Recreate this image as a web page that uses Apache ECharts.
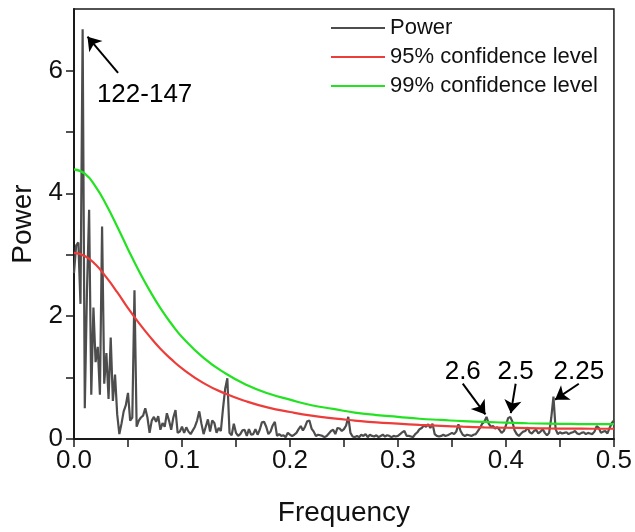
<!DOCTYPE html>
<html>
<head>
<meta charset="utf-8">
<script src="https://cdn.jsdelivr.net/npm/echarts@6/dist/echarts.min.js"></script>
<style>
  html, body { margin: 0; padding: 0; background: #fff; }
  #chart { width: 635px; height: 532px; }
</style>
</head>
<body>
<div id="chart"></div>
<script>
  // periodogram, one value every 0.002 in frequency (0 .. 0.5)
  const freqStep = 0.002;
  const powerValues = [
    2.7, 3.15, 3.2, 2.2, 6.67, 0.5, 2.4, 3.73, 0.72, 2.14,
    1.25, 1.5, 0.72, 3.46, 0.9, 1.4, 0.65, 1.65, 0.62, 1.05,
    0.4, 0.08, 0.25, 0.45, 0.55, 0.75, 0.3, 0.35, 2.42, 0.2,
    0.3, 0.35, 0.38, 0.5, 0.35, 0.1, 0.3, 0.36, 0.28, 0.37,
    0.15, 0.26, 0.2, 0.42, 0.3, 0.15, 0.35, 0.47, 0.1, 0.12,
    0.2, 0.1, 0.19, 0.12, 0.08, 0.14, 0.2, 0.3, 0.45, 0.25,
    0.08, 0.2, 0.32, 0.12, 0.3, 0.26, 0.1, 0.18, 0.13, 0.5,
    0.82, 0.99, 0.1, 0.06, 0.25, 0.1, 0.05, 0.08, 0.14, 0.15,
    0.05, 0.16, 0.07, 0.08, 0.16, 0.07, 0.15, 0.27, 0.28, 0.2,
    0.08, 0.12, 0.22, 0.28, 0.05, 0.08, 0.05, 0.06, 0.03, 0.1,
    0.07, 0.05, 0.07, 0.1, 0.16, 0.21, 0.14, 0.2, 0.29, 0.3,
    0.17, 0.12, 0.05, 0.07, 0.06, 0.05, 0.03, 0.05, 0.09, 0.13,
    0.15, 0.08, 0.18, 0.17, 0.13, 0.16, 0.22, 0.36, 0.1, 0.04,
    0.03, 0.05, 0.03, 0.07, 0.05, 0.08, 0.03, 0.07, 0.05, 0.04,
    0.06, 0.03, 0.05, 0.07, 0.04, 0.06, 0.05, 0.03, 0.05, 0.04,
    0.05, 0.08, 0.11, 0.13, 0.05, 0.05, 0.04, 0.03, 0.08, 0.11,
    0.16, 0.18, 0.22, 0.2, 0.24, 0.18, 0.25, 0.08, 0.05, 0.04,
    0.05, 0.07, 0.05, 0.06, 0.08, 0.1, 0.08, 0.12, 0.24, 0.13,
    0.07, 0.05, 0.07, 0.06, 0.05, 0.07, 0.08, 0.13, 0.18, 0.25,
    0.28, 0.36, 0.25, 0.2, 0.21, 0.17, 0.19, 0.15, 0.1, 0.13,
    0.22, 0.34, 0.36, 0.28, 0.14, 0.08, 0.05, 0.09, 0.12, 0.13,
    0.19, 0.11, 0.09, 0.13, 0.15, 0.09, 0.12, 0.16, 0.1, 0.06,
    0.1, 0.35, 0.69, 0.16, 0.08, 0.11, 0.09, 0.1, 0.11, 0.08,
    0.1, 0.11, 0.13, 0.09, 0.08, 0.1, 0.11, 0.08, 0.1, 0.09,
    0.08, 0.12, 0.21, 0.18, 0.1, 0.12, 0.13, 0.09, 0.18, 0.26,
    0.3
  ];

  // confidence level curves
  const confFreq = [0, 0.01, 0.02, 0.03, 0.04, 0.05, 0.06, 0.07, 0.08, 0.09, 0.1,
    0.12, 0.14, 0.16, 0.18, 0.2, 0.22, 0.24, 0.26, 0.28, 0.3,
    0.32, 0.34, 0.36, 0.38, 0.4, 0.42, 0.44, 0.46, 0.48, 0.5];
  const conf95 = [3.03, 2.98, 2.84, 2.63, 2.39, 2.13, 1.89, 1.67, 1.47, 1.30, 1.15,
    0.91, 0.74, 0.61, 0.51, 0.44, 0.38, 0.335, 0.30, 0.27, 0.25,
    0.23, 0.214, 0.20, 0.19, 0.183, 0.177, 0.172, 0.169, 0.167, 0.167];
  const conf99 = [4.39, 4.32, 4.11, 3.81, 3.46, 3.09, 2.74, 2.42, 2.13, 1.88, 1.66,
    1.32, 1.07, 0.88, 0.74, 0.64, 0.55, 0.49, 0.43, 0.39, 0.36,
    0.33, 0.31, 0.29, 0.28, 0.265, 0.256, 0.25, 0.245, 0.242, 0.242];

  // period annotations: text, text position, arrow start, arrow end
  const notes = [
    { text: '122-147', at: [0.0654, 5.6], from: [0.0408, 5.96], to: [0.0125, 6.55] },
    { text: '2.6', at: [0.36, 1.1], from: [0.36, 0.9], to: [0.381, 0.40] },
    { text: '2.5', at: [0.409, 1.1], from: [0.409, 0.9], to: [0.4045, 0.42] },
    { text: '2.25', at: [0.4675, 1.1], from: [0.4675, 0.9], to: [0.4455, 0.64] }
  ];

  const font = "'Liberation Sans', Arial, sans-serif";
  const myChart = echarts.init(document.getElementById('chart'));

  let option = {
    animation: false,
    grid: {
      left: 74,
      right: 18,
      top: 9,
      bottom: 85,
      show: true,
      borderColor: '#1a1a1a',
      borderWidth: 1.5
    },
    legend: {
      orient: 'vertical',
      left: 325,
      top: 11,
      itemWidth: 54,
      itemHeight: 14,
      itemGap: 5,
      itemStyle: { opacity: 0 },
      data: ['Power', '95% confidence level', '99% confidence level'],
      textStyle: { fontFamily: font, fontSize: 22, color: '#111', lineHeight: 24 }
    },
    xAxis: {
      type: 'value',
      min: 0,
      max: 0.5,
      interval: 0.05,
      name: 'Frequency',
      nameLocation: 'middle',
      nameGap: 60,
      nameTextStyle: { fontFamily: font, fontSize: 28, color: '#111' },
      axisLine: { lineStyle: { color: '#1a1a1a', width: 2 } },
      axisTick: { inside: false, length: 8, lineStyle: { color: '#1a1a1a', width: 1.5 } },
      axisLabel: {
        margin: 9,
        fontFamily: font,
        fontSize: 26,
        color: '#111',
        formatter: (v) => (Math.round(v * 100) % 10 === 0 ? v.toFixed(1) : '')
      },
      splitLine: { show: false }
    },
    yAxis: {
      type: 'value',
      min: 0,
      max: 7,
      interval: 1,
      name: 'Power',
      nameLocation: 'middle',
      nameGap: 37,
      nameTextStyle: { fontFamily: font, fontSize: 28, color: '#111' },
      axisLine: { show: true, lineStyle: { color: '#1a1a1a', width: 2 } },
      axisTick: { show: true, inside: false, length: 8, lineStyle: { color: '#1a1a1a', width: 1.5 } },
      axisLabel: {
        margin: 11,
        fontFamily: font,
        fontSize: 26,
        color: '#111',
        showMaxLabel: false,
        formatter: (v) => (v % 2 === 0 ? String(v) : '')
      },
      splitLine: { show: false }
    },
    series: [
      {
        name: 'Power',
        type: 'line',
        symbol: 'none',
        color: '#4d4d4d',
        lineStyle: { width: 2.2, color: '#4d4d4d' },
        data: powerValues.map((p, i) => [+(i * freqStep).toFixed(3), p]),
        markLine: {
          silent: true,
          symbol: ['none', 'arrow'],
          symbolSize: 13,
          label: { show: false },
          lineStyle: { color: '#000', width: 2, type: 'solid' },
          data: notes.map((n) => [{ coord: n.from }, { coord: n.to }])
        },
        markPoint: {
          silent: true,
          symbol: 'circle',
          symbolSize: 1,
          itemStyle: { color: 'transparent' },
          label: {
            show: true,
            position: 'inside',
            fontFamily: font,
            fontSize: 26,
            color: '#000',
            formatter: (p) => p.name
          },
          data: notes.map((n) => ({ name: n.text, coord: n.at }))
        }
      },
      {
        name: '95% confidence level',
        type: 'line',
        symbol: 'none',
        smooth: true,
        color: '#ec3d3a',
        lineStyle: { width: 2.2, color: '#ec3d3a' },
        data: confFreq.map((f, i) => [f, conf95[i]])
      },
      {
        name: '99% confidence level',
        type: 'line',
        symbol: 'none',
        smooth: true,
        color: '#22e222',
        lineStyle: { width: 2.2, color: '#22e222' },
        data: confFreq.map((f, i) => [f, conf99[i]])
      }
    ]
  };

  myChart.setOption(option);
</script>
</body>
</html>
